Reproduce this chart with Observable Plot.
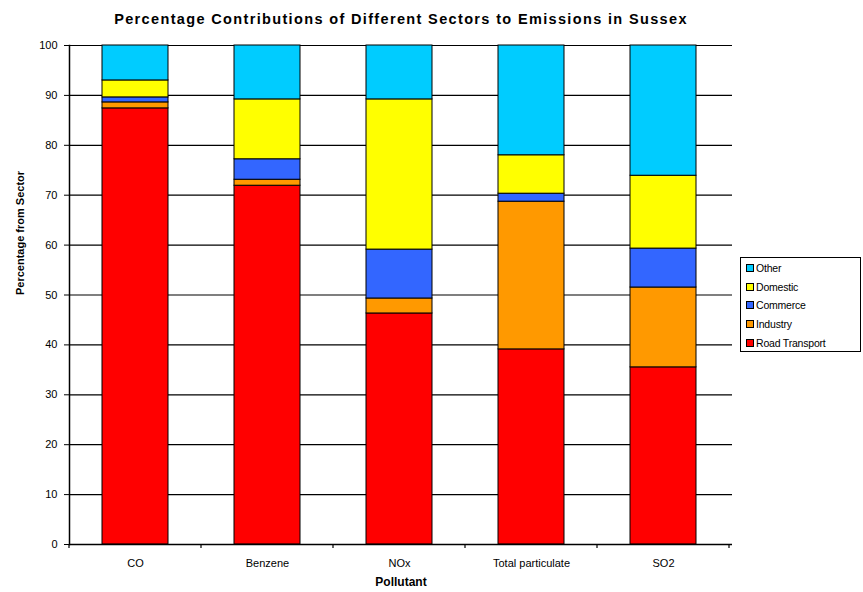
<!DOCTYPE html>
<html>
<head>
<meta charset="utf-8">
<script src="https://cdn.jsdelivr.net/npm/d3@7"></script>
<script src="https://cdn.jsdelivr.net/npm/@observablehq/plot@0.6"></script>
<style>
  body { margin: 0; background: #fff; }
  #wrap { position: relative; width: 863px; height: 592px; font-family: "Liberation Sans", Arial, sans-serif; }
  #title { position: absolute; left: 0; width: 802px; top: 11px; text-align: center; font-weight: bold; font-size: 14.5px; letter-spacing: 1.35px; color: #000; }
  #legend { position: absolute; left: 740px; top: 257px; width: 121px; height: 95px; border: 1px solid #000; box-sizing: border-box; font-size: 10.5px; letter-spacing: -0.2px; color: #000; padding: 1px 0 0 5px; }
  .item { display: flex; align-items: center; height: 18.6px; }
  .sw { width: 6px; height: 6px; border: 1px solid #000; margin-right: 2px; flex: none; }
  #chart { position: absolute; left: 0; top: 0; }
</style>
</head>
<body>
<div id="wrap">
  <div id="chart"></div>
  <div id="title">Percentage Contributions of Different Sectors to Emissions in Sussex</div>
  <div id="legend"></div>
</div>
<script>
const pollutants = ["CO", "Benzene", "NOx", "Total particulate", "SO2"];
const sectors = ["Road Transport", "Industry", "Commerce", "Domestic", "Other"];
const colors = ["#ff0000", "#ff9900", "#3366ff", "#ffff00", "#00ccff"];
const roadTransport = [87.4, 71.9, 46.3, 39.1, 35.5];
const industry = [1.2, 1.2, 3.0, 29.6, 16.0];
const commerce = [1.0, 4.1, 9.8, 1.6, 7.8];
const domestic = [3.4, 12.0, 30.1, 7.7, 14.6];
const other = [7.0, 10.8, 10.8, 22.0, 26.1];
const yTicks = [0, 10, 20, 30, 40, 50, 60, 70, 80, 90, 100];

const series = [roadTransport, industry, commerce, domestic, other];
const data = [];
sectors.forEach((s, si) => {
  pollutants.forEach((p, pi) => data.push({pollutant: p, sector: s, value: series[si][pi]}));
});

const betweenTicks = (index, scales, values, dims) => {
  const g = d3.create("svg:g");
  const x = scales.x;
  const step = x.step();
  const y0 = dims.height - dims.marginBottom;
  const left = dims.marginLeft;
  d3.range(pollutants.length + 1).map(i => left + i * step).forEach(e => {
    g.append("line").attr("x1", e).attr("x2", e).attr("y1", y0).attr("y2", y0 + 4)
      .attr("stroke", "#000").attr("stroke-width", 1.2);
  });
  return g.node();
};

const plot = Plot.plot({
  width: 863,
  height: 592,
  marginTop: 45,
  marginBottom: 48,
  marginLeft: 69,
  marginRight: 131,
  style: { fontFamily: "'Liberation Sans', Arial, sans-serif", fontSize: "11px", color: "#000", background: "transparent" },
  x: { domain: pollutants, paddingInner: 0.5, paddingOuter: 0.25, label: null },
  y: { domain: [0, 100], ticks: yTicks, label: null },
  color: { domain: sectors, range: colors },
  marks: [
    Plot.gridY(yTicks, { stroke: "#000", strokeOpacity: 1, strokeWidth: 1.2 }),
    Plot.barY(data, { x: "pollutant", y: "value", fill: "sector", stroke: "#000", strokeWidth: 1, order: sectors, dx: -2 }),
    Plot.ruleY([0], { stroke: "#000", strokeWidth: 1.5 }),
    Plot.frame({ anchor: "left", stroke: "#000", strokeWidth: 1.5 }),
    Plot.axisY(yTicks, { tickSize: 5, tickPadding: 7, fontSize: 11, label: null, stroke: "#000" }),
    Plot.axisX({ tickSize: 0, tickPadding: 15, fontSize: 11, label: null, dx: -2 }),
    betweenTicks,
    Plot.text(["Percentage from Sector"], { frameAnchor: "left", rotate: -90, dx: -49, fontWeight: "bold", fontSize: 11 }),
    Plot.text(["Pollutant"], { frameAnchor: "bottom", dy: 41, fontWeight: "bold", fontSize: 12 })
  ]
});
document.getElementById("chart").appendChild(plot);

const legend = document.getElementById("legend");
[...sectors].reverse().forEach(s => {
  const item = document.createElement("div");
  item.className = "item";
  const sw = document.createElement("div");
  sw.className = "sw";
  sw.style.background = colors[sectors.indexOf(s)];
  const lab = document.createElement("span");
  lab.textContent = s;
  item.appendChild(sw);
  item.appendChild(lab);
  legend.appendChild(item);
});
</script>
</body>
</html>
